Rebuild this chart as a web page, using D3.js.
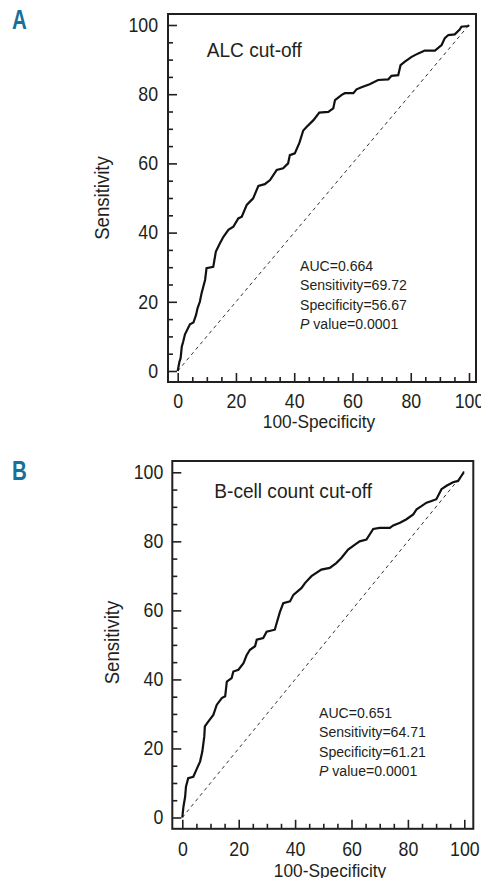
<!DOCTYPE html>
<html>
<head>
<meta charset="utf-8">
<script src="https://cdn.jsdelivr.net/npm/d3@7"></script>
<style>
  body { margin: 0; background: #fff; }
  svg text {
    font-family: "Liberation Sans", Arial, sans-serif;
    fill: #231f20;
  }
</style>
</head>
<body>
<div id="chart-area"></div>
<script>
// ROC curve A - ALC cut-off (100-specificity, sensitivity)
const alcFpr = [0, 0.6, 1.0, 1.4, 1.9, 2.5, 4.2, 5.4, 6.3, 6.8, 7.6, 8.2, 9.4, 9.9, 12.2, 13.1, 14.5, 15.7,
  17.4, 19.1, 20.8, 22.0, 23.7, 25.9, 27.7, 29.9, 31.7, 34.0, 36.2, 37.9, 38.5, 40.2, 41.8, 43.1, 44.3,
  46.6, 48.6, 51.7, 53.4, 54.0, 56.3, 57.4, 60.3, 61.4, 63.1, 65.9, 68.8, 72.3, 73.4, 75.7, 76.5, 78.0,
  80.3, 82.6, 84.8, 88.3, 90.6, 91.7, 92.9, 95.1, 96.8, 97.4, 99.7, 100];
const alcSens = [0, 2.7, 3.7, 7.0, 8.5, 10.6, 13.5, 14.0, 16.2, 18.1, 20.0, 22.5, 26.3, 29.7, 30.1, 34.5, 36.9, 38.8,
  40.8, 41.7, 44.1, 44.6, 48.0, 49.9, 53.5, 54.0, 55.2, 58.1, 58.6, 60.0, 62.4, 62.9, 66.0, 69.5, 70.6,
  72.5, 74.7, 74.9, 75.9, 78.3, 79.8, 80.3, 80.3, 81.4, 82.0, 82.9, 84.1, 84.3, 85.3, 85.5, 88.4, 89.4,
  90.8, 91.8, 92.6, 92.6, 94.2, 96.2, 97.1, 97.3, 98.7, 99.5, 99.7, 100];

// ROC curve B - B-cell count cut-off
const bcellFpr = [0, 0.4, 1.0, 1.3, 2.1, 3.9, 5.1, 6.3, 7.1, 7.8, 8.0, 9.2, 11.0, 12.2, 14.0, 15.2, 15.8, 17.5,
  18.1, 19.9, 21.7, 22.8, 24.0, 25.8, 26.4, 28.7, 29.9, 32.8, 33.5, 34.6, 35.8, 38.2, 39.4, 42.3, 43.5,
  45.8, 49.3, 52.3, 54.6, 56.4, 58.8, 61.1, 62.9, 65.3, 67.7, 70.0, 73.6, 74.8, 77.2, 79.5, 81.9, 83.1,
  84.8, 86.6, 88.4, 90.1, 91.9, 93.7, 96.0, 97.8, 99.0, 99.8, 100];
const bcellSens = [0, 3.1, 6.0, 8.9, 11.4, 11.8, 14.0, 16.2, 19.1, 23.5, 26.4, 27.8, 29.7, 32.6, 34.6, 35.1, 39.4, 40.4,
  42.3, 42.8, 44.7, 47.0, 48.6, 49.6, 51.5, 52.0, 53.8, 54.4, 56.4, 59.5, 62.1, 62.6, 64.5, 66.5, 67.9,
  69.9, 71.8, 72.3, 73.7, 75.2, 77.6, 79.0, 80.0, 80.5, 83.6, 83.9, 83.9, 84.6, 85.4, 86.4, 87.8, 89.3,
  90.2, 91.2, 91.7, 92.2, 95.1, 96.1, 97.1, 97.5, 99.0, 100, 100];

const refLine = [0, 100];
const majorTicks = [0, 20, 40, 60, 80, 100];
const minorTicks = [5, 10, 15, 25, 30, 35, 45, 50, 55, 65, 70, 75, 85, 90, 95];

const panelLetters = ['A', 'B'];
const panelTitles = ['ALC cut-off', 'B-cell count cut-off'];
const statsA = ['AUC=0.664', 'Sensitivity=69.72', 'Specificity=56.67', 'value=0.0001'];
const statsB = ['AUC=0.651', 'Sensitivity=64.71', 'Specificity=61.21', 'value=0.0001'];

// condensed look: regular face squeezed horizontally
const SX = 0.91;

const svg = d3.select('#chart-area')
  .append('svg')
  .attr('width', 481)
  .attr('height', 878);

const panels = [
  { letter: panelLetters[0], title: panelTitles[0], stats: statsA, fpr: alcFpr, sens: alcSens,
    left: 168, right: 476, top: 14, bottom: 382, x0: 177.7, x100: 469, y0: 371, y100: 25,
    titleX: 206.7, titleY: 56.7, statsX: 300, statsY: 271, yPad: 10, xPad: 12.5,
    xTitleX: 319, xTitleY: 428, yTitleX: 109, yTitleY: 198, letterY: 29 },
  { letter: panelLetters[1], title: panelTitles[1], stats: statsB, fpr: bcellFpr, sens: bcellSens,
    left: 172.3, right: 473.3, top: 461, bottom: 828.8, x0: 182.3, x100: 464.3, y0: 817.5, y100: 472.3,
    titleX: 214.3, titleY: 498.3, statsX: 319, statsY: 718, yPad: 9, xPad: 13.7,
    xTitleX: 330, xTitleY: 877, yTitleX: 118.5, yTitleY: 642.5, letterY: 480 }
];

panels.forEach((p) => {
  const g = svg.append('g');

  const x = d3.scaleLinear().domain([0, 100]).range([p.x0, p.x100]);
  const y = d3.scaleLinear().domain([0, 100]).range([p.y0, p.y100]);

  // Panel letter
  g.append('text')
    .attr('transform', 'translate(12, ' + p.letterY + ') scale(0.76, 1)')
    .attr('font-size', '27px')
    .attr('font-weight', 'bold')
    .style('fill', '#17709a')
    .text(p.letter);

  // Minor ticks
  g.append('g')
    .attr('transform', 'translate(' + p.left + ', 0)')
    .call(d3.axisLeft(y).tickValues(minorTicks).tickSize(-5).tickFormat(''));
  g.append('g')
    .attr('transform', 'translate(0, ' + p.bottom + ')')
    .call(d3.axisBottom(x).tickValues(minorTicks).tickSize(-5).tickFormat(''));

  // Major ticks with labels
  g.append('g')
    .attr('class', 'y axis-left')
    .attr('transform', 'translate(' + p.left + ', 0)')
    .call(d3.axisLeft(y).tickValues(majorTicks).tickSize(-9).tickPadding(p.yPad / SX));
  g.append('g')
    .attr('class', 'x axis-bottom')
    .attr('transform', 'translate(0, ' + p.bottom + ')')
    .call(d3.axisBottom(x).tickValues(majorTicks).tickSize(-9).tickPadding(p.xPad));

  g.selectAll('.domain').remove();
  g.selectAll('.tick line').attr('stroke', '#231f20').attr('stroke-width', 1.6);
  g.selectAll('.tick text')
    .attr('font-size', '19.5px')
    .attr('font-family', null)
    .attr('transform', 'scale(' + SX + ', 1)');

  // Frame
  g.append('rect')
    .attr('x', p.left)
    .attr('y', p.top)
    .attr('width', p.right - p.left)
    .attr('height', p.bottom - p.top)
    .attr('fill', 'none')
    .attr('stroke', '#231f20')
    .attr('stroke-width', 2);

  // Reference diagonal
  g.append('line')
    .attr('x1', x(refLine[0]))
    .attr('y1', y(refLine[0]))
    .attr('x2', x(refLine[1]))
    .attr('y2', y(refLine[1]))
    .attr('stroke', '#333')
    .attr('stroke-width', 1)
    .attr('stroke-dasharray', '3.5,3.5');

  // ROC curve
  const line = d3.line()
    .x((d) => x(d[0]))
    .y((d) => y(d[1]));

  g.append('path')
    .datum(p.fpr.map((v, i) => [v, p.sens[i]]))
    .attr('d', line)
    .attr('fill', 'none')
    .attr('stroke', '#111')
    .attr('stroke-width', 2.2);

  // Panel title
  g.append('text')
    .attr('transform', 'translate(' + p.titleX + ', ' + p.titleY + ') scale(' + SX + ', 1)')
    .attr('font-size', '21px')
    .text(p.title);

  // Stats block
  const st = g.append('text')
    .attr('transform', 'translate(' + p.statsX + ', ' + p.statsY + ') scale(' + SX + ', 1)')
    .attr('font-size', '15.5px');
  p.stats.forEach((s, i) => {
    if (i === 3) {
      st.append('tspan')
        .attr('x', 0)
        .attr('y', i * 19.3)
        .attr('font-style', 'italic')
        .text('P');
      st.append('tspan')
        .text(' ' + s);
    } else {
      st.append('tspan')
        .attr('x', 0)
        .attr('y', i * 19.3)
        .text(s);
    }
  });

  // Axis labels
  g.append('text')
    .attr('transform', 'translate(' + p.xTitleX + ', ' + p.xTitleY + ') scale(' + SX + ', 1)')
    .attr('font-size', '19px')
    .attr('text-anchor', 'middle')
    .text('100-Specificity');

  g.append('text')
    .attr('transform', 'translate(' + p.yTitleX + ', ' + p.yTitleY + ') rotate(-90) scale(0.93, 1)')
    .attr('font-size', '20px')
    .attr('text-anchor', 'middle')
    .text('Sensitivity');
});
</script>
</body>
</html>
